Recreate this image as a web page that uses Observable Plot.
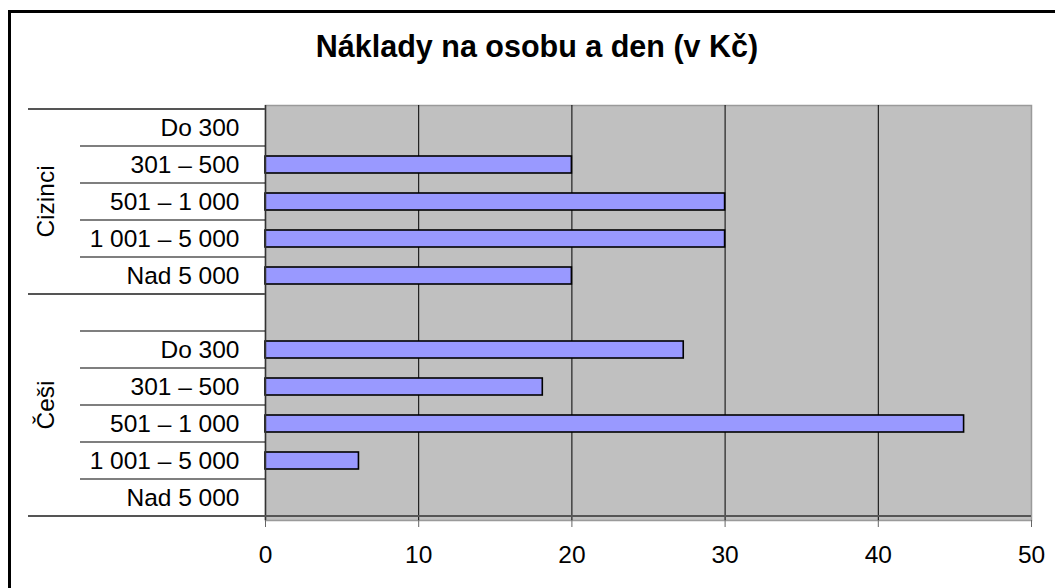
<!DOCTYPE html>
<html>
<head>
<meta charset="utf-8">
<script src="https://cdn.jsdelivr.net/npm/d3@7"></script>
<script src="https://cdn.jsdelivr.net/npm/@observablehq/plot@0.6"></script>
<style>
  html, body { margin: 0; padding: 0; background: #fff; }
  svg { display: block; }
</style>
</head>
<body>
<div id="chart"></div>
<script>
const title = "Náklady na osobu a den (v Kč)";
const groups = ["Cizinci", "Češi"];
const categories = ["Do 300", "301 – 500", "501 – 1 000", "1 001 – 5 000", "Nad 5 000"];
const cizinci = [0, 20, 30, 30, 20];
const cesi = [27.3, 18.1, 45.6, 6.1, 0];
const xTicks = [0, 10, 20, 30, 40, 50];

// Row keys: Cizinci rows, then a blank row (part of Češi group), then Češi rows
const keys = [
  ...categories.map(c => groups[0] + "|" + c),
  groups[1] + "|",
  ...categories.map(c => groups[1] + "|" + c)
];
const rows = [
  ...categories.map((c, i) => ({key: groups[0] + "|" + c, value: cizinci[i]})),
  ...categories.map((c, i) => ({key: groups[1] + "|" + c, value: cesi[i]}))
];

const font = "'Liberation Sans', Arial, Helvetica, sans-serif";
const fs = 24.5;

const plot = Plot.plot({
  width: 1055,
  height: 588,
  marginLeft: 265,
  marginRight: 24,
  marginTop: 105,
  marginBottom: 68,
  style: {fontFamily: font, fontSize: fs + "px", color: "#000", background: "#fff", overflow: "visible"},
  x: {domain: [0, 50], label: null},
  y: {domain: keys, padding: 0, label: null},
  marks: [
    Plot.frame({fill: "#C0C0C0", stroke: "#9a9a9a", strokeWidth: 1.5}),
    Plot.ruleX(xTicks.filter(t => t > 0 && t < 50), {stroke: "#000", strokeWidth: 1}),
    Plot.barX(rows.filter(d => d.value > 0), {
      x: "value", y: "key", fill: "#9999FF", stroke: "#000", strokeWidth: 1.6,
      insetTop: 10, insetBottom: 10
    }),
    Plot.ruleX([0], {stroke: "#333", strokeWidth: 1.5}),
    Plot.axisX({ticks: xTicks, tickSize: 7, tickPadding: 18, stroke: "#666", fontSize: fs, label: null}),
    Plot.axisY({tickSize: 0, tickPadding: 26, tickFormat: k => k.split("|")[1], fontSize: fs, label: null})
  ]
});

document.getElementById("chart").appendChild(plot);

const svg = d3.select(plot);
const y = plot.scale("y");
const x = plot.scale("x");
const bw = y.bandwidth;
const x0 = x.apply(0);
const x50 = x.apply(50);

// Category separators (short) and group separators (long)
const bounds = keys.map(k => y.apply(k));
bounds.push(y.apply(keys[keys.length - 1]) + bw);
const groupStarts = new Set([0, keys.indexOf(groups[1] + "|"), keys.length]);
const sep = svg.append("g");
bounds.forEach((b, i) => {
  const isGroup = groupStarts.has(i);
  sep.append("line")
    .attr("x1", isGroup ? 28 : 80)
    .attr("x2", i === keys.length ? x50 : x0)
    .attr("y1", b).attr("y2", b)
    .attr("stroke", isGroup ? "#555" : "#000")
    .attr("stroke-width", isGroup ? 2 : 1.2);
});

// Group labels (rotated)
groups.forEach(g => {
  const gk = keys.filter(k => k.startsWith(g + "|"));
  const top = y.apply(gk[0]);
  const bottom = y.apply(gk[gk.length - 1]) + bw;
  const cy = (top + bottom) / 2;
  svg.append("text")
    .attr("transform", `translate(54,${cy}) rotate(-90)`)
    .attr("text-anchor", "middle")
    .attr("font-family", font)
    .attr("font-size", fs)
    .attr("fill", "#000")
    .text(g);
});

// Title
svg.append("text")
  .attr("x", 537)
  .attr("y", 57)
  .attr("text-anchor", "middle")
  .attr("font-family", font)
  .attr("font-size", 30.5)
  .attr("font-weight", "bold")
  .attr("fill", "#000")
  .text(title);

// Outer border (extends beyond the picture on right/bottom)
svg.append("rect")
  .attr("x", 9.5).attr("y", 11.5)
  .attr("width", 1200).attr("height", 800)
  .attr("fill", "none")
  .attr("stroke", "#000")
  .attr("stroke-width", 3);
</script>
</body>
</html>
